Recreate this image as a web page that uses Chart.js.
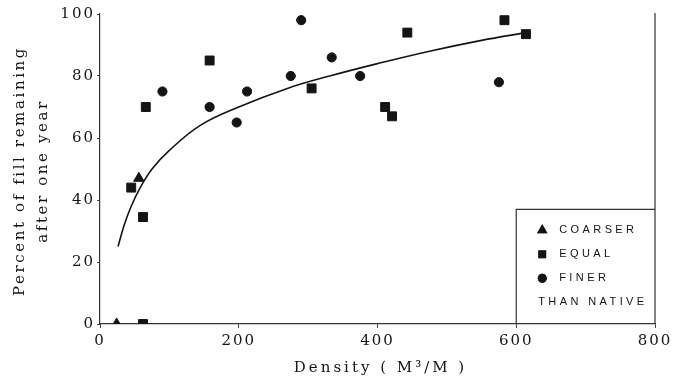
<!DOCTYPE html>
<html>
<head>
<meta charset="utf-8">
<script src="https://cdn.jsdelivr.net/npm/chart.js@4/dist/chart.umd.min.js"></script>
<style>
  html, body { margin: 0; padding: 0; background: #fff; }
  #wrap { width: 675px; height: 386px; }
</style>
</head>
<body>
<div id="wrap"><canvas id="chart"></canvas></div>
<script>
// data
const coarserX = [24, 56];
const coarserY = [0, 47];

const equalX = [45, 62, 62, 66, 158, 305, 411, 421, 443, 583, 614];
const equalY = [44, 0, 34.5, 70, 85, 76, 70, 67, 94, 98, 93.5];

const finerX = [90, 158, 197, 212, 275, 290, 334, 375, 575];
const finerY = [75, 70, 65, 75, 80, 98, 86, 80, 78];

// fitted curve
const curveX = [26, 35, 45, 58, 75, 100, 144, 200, 270, 331, 400, 475, 550, 614];
const curveY = [25, 32, 38, 44, 50, 56, 64, 70, 76, 80, 84, 88, 91.5, 94];

const xTicks = [0, 200, 400, 600, 800];
const yTicks = [0, 20, 40, 60, 80, 100];

const xTitle = "Density ( M\u00b3/M )";
const yTitle = ["Percent of fill remaining", "after one year"];

const legendItems = [
  { style: "triangle", label: "COARSER" },
  { style: "rect", label: "EQUAL" },
  { style: "circle", label: "FINER" },
  { style: null, label: "THAN NATIVE" }
];

function toPoints(xs, ys) {
  return xs.map((x, i) => ({ x: x, y: ys[i] }));
}

const ink = "#141414";
const serif = "'DejaVu Serif', 'Liberation Serif', serif";

// wider letter spacing for tick labels, like the printed figure
const spacingPlugin = {
  id: "spacingPlugin",
  beforeDraw(chart) {
    chart.ctx.letterSpacing = "2px";
  }
};

// axis titles, right border and legend box
const boxPlugin = {
  id: "boxPlugin",
  afterDraw(chart) {
    const ctx = chart.ctx;
    const xs = chart.scales.x;
    const ys = chart.scales.y;
    const area = chart.chartArea;
    const right = xs.getPixelForValue(800);
    const left = xs.getPixelForValue(600);
    const top = ys.getPixelForValue(37);
    const bottom = ys.getPixelForValue(0);

    ctx.save();
    ctx.strokeStyle = "#333";
    ctx.lineWidth = 1.2;
    ctx.beginPath();
    ctx.moveTo(right, area.top - 1);
    ctx.lineTo(right, bottom);
    ctx.moveTo(left, bottom);
    ctx.lineTo(left, top);
    ctx.lineTo(right, top);
    ctx.stroke();

    // axis titles
    ctx.fillStyle = ink;
    ctx.textAlign = "center";
    ctx.textBaseline = "middle";
    ctx.font = "15px " + serif;
    ctx.letterSpacing = "3px";
    ctx.fillText(xTitle, (area.left + area.right) / 2 + 3, 368);

    ctx.save();
    ctx.translate(0, (area.top + area.bottom) / 2 + 2);
    ctx.rotate(-Math.PI / 2);
    ctx.letterSpacing = "2.6px";
    ctx.fillText(yTitle[0], 0, 20);
    ctx.fillText(yTitle[1], 0, 43);
    ctx.restore();

    // legend
    ctx.textAlign = "left";
    ctx.font = "11px 'Liberation Sans', Arial, sans-serif";
    ctx.letterSpacing = "3.4px";
    legendItems.forEach((item, i) => {
      const cy = top + 21 + i * 24;
      if (item.style) {
        Chart.helpers.drawPoint(ctx, {
          pointStyle: item.style,
          radius: item.style === "rect" ? 5.5 : item.style === "triangle" ? 6 : 4.5,
          rotation: 0
        }, left + 26, cy);
        ctx.fill();
        ctx.fillText(item.label, left + 43, cy);
      } else {
        ctx.fillText(item.label, left + 22, cy);
      }
    });
    ctx.restore();
  }
};

const config = {
  type: "scatter",
  data: {
    datasets: [
      {
        label: "curve",
        data: toPoints(curveX, curveY),
        showLine: true,
        borderColor: ink,
        borderWidth: 1.6,
        pointRadius: 0,
        tension: 0.4,
        fill: false
      },
      {
        label: "COARSER",
        data: toPoints(coarserX, coarserY),
        pointStyle: "triangle",
        pointRadius: 6,
        backgroundColor: ink,
        borderColor: ink
      },
      {
        label: "EQUAL",
        data: toPoints(equalX, equalY),
        pointStyle: "rect",
        pointRadius: 6.3,
        backgroundColor: ink,
        borderColor: ink
      },
      {
        label: "FINER",
        data: toPoints(finerX, finerY),
        pointStyle: "circle",
        pointRadius: 4.6,
        backgroundColor: ink,
        borderColor: ink
      }
    ]
  },
  options: {
    responsive: true,
    maintainAspectRatio: false,
    animation: false,
    layout: { padding: { top: 14, right: 20, left: 0, bottom: 0 } },
    plugins: {
      legend: { display: false },
      tooltip: { enabled: false }
    },
    scales: {
      x: {
        type: "linear",
        min: 0,
        max: 800,
        afterBuildTicks: (scale) => { scale.ticks = xTicks.map(v => ({ value: v })); },
        afterFit: (scale) => { scale.height = 62; },
        grid: { display: true, drawOnChartArea: false, tickLength: 4, color: "#444" },
        border: { display: true, color: "#333", width: 1.2 },
        ticks: { color: ink, padding: 4, font: { family: serif, size: 15 } }
      },
      y: {
        type: "linear",
        min: 0,
        max: 100,
        afterBuildTicks: (scale) => { scale.ticks = yTicks.map(v => ({ value: v })); },
        afterFit: (scale) => { scale.width = 100; },
        grid: { display: true, drawOnChartArea: false, tickLength: 3, color: "#444" },
        border: { display: true, color: "#333", width: 1.2 },
        ticks: { color: ink, padding: 2, font: { family: serif, size: 15 } }
      }
    }
  },
  plugins: [spacingPlugin, boxPlugin]
};

const chart = new Chart(document.getElementById("chart"), config);
</script>
</body>
</html>
